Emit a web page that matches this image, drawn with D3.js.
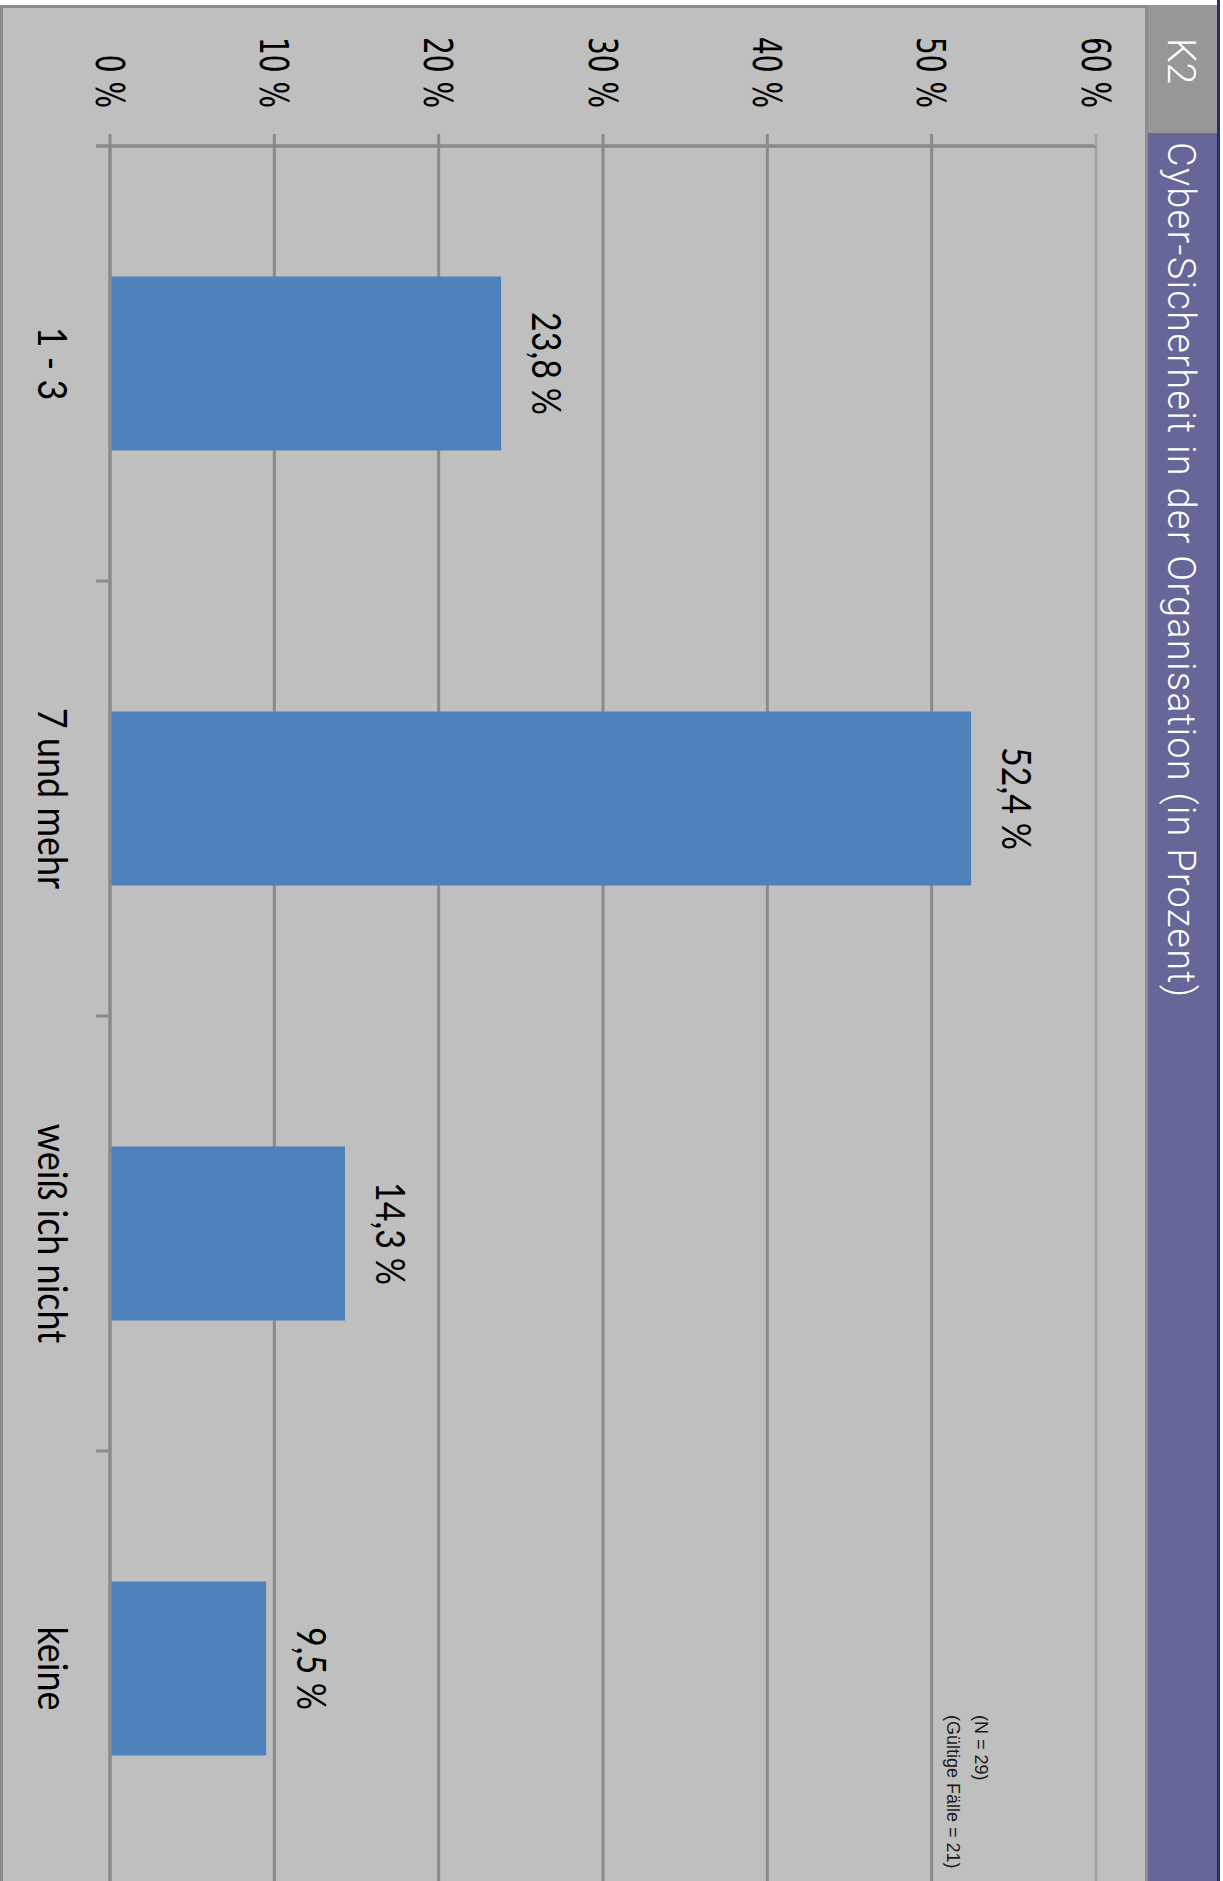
<!DOCTYPE html>
<html>
<head>
<meta charset="utf-8">
<script src="https://cdn.jsdelivr.net/npm/d3@7"></script>
<style>
  html, body { margin: 0; padding: 0; background: #ffffff; }
  svg { display: block; }
</style>
</head>
<body>
<script>
// Chart content
const chartId = "K2";
const chartTitle = "Cyber-Sicherheit in der Organisation (in Prozent)";
const categories = ["1 - 3", "7 und mehr", "weiß ich nicht", "keine"];
const values = [23.8, 52.4, 14.3, 9.5];
const valueTicks = [0, 10, 20, 30, 40, 50, 60];
const footnotes = ["(N = 29)", "(Gültige Fälle = 21)"];

const W = 1223, H = 1881;

const svg = d3.select("body").append("svg")
  .attr("width", W).attr("height", H);

// The chart is laid out as an ordinary column chart (u across, v down)
// and then turned a quarter turn clockwise onto the page.
const g = svg.append("g").attr("transform", `translate(${W},0) rotate(90)`);
const U = H; // length along the turned width

// Panel frame and background
g.append("rect").attr("x", 5).attr("y", 75).attr("width", U - 5).attr("height", W - 75).attr("fill", "#8c8c8c");
g.append("rect").attr("x", 8).attr("y", 78).attr("width", U - 8).attr("height", W - 81).attr("fill", "#bfbfbf");

// Header strip with chart number and title
g.append("rect").attr("x", 5).attr("y", 6).attr("width", 128).attr("height", 69).attr("fill", "#979797");
g.append("rect").attr("x", 133).attr("y", 6).attr("width", U - 133).attr("height", 69).attr("fill", "#666699");
g.append("rect").attr("x", 0).attr("y", 3).attr("width", U).attr("height", 3).attr("fill", "#2b2b72");

function stretchedText(sel, u, v, k) {
  return sel.attr("transform", `translate(${u},${v}) scale(1,${k})`);
}

stretchedText(g.append("text"), 61, 55, 1.0)
  .attr("text-anchor", "middle")
  .attr("font-family", "Roboto, sans-serif")
  .attr("font-weight", 300)
  .attr("font-size", 39)
  .attr("fill", "#ffffff")
  .text(chartId);

stretchedText(g.append("text"), 142, 55, 1.0)
  .attr("font-family", "Roboto, sans-serif")
  .attr("font-weight", 300)
  .attr("font-size", 38)
  .attr("letter-spacing", 1.25)
  .attr("fill", "#ffffff")
  .text(chartTitle);

// Scales
const y = d3.scaleLinear().domain([0, 60]).range([1113, 127]);
const x = d3.scaleBand().domain(categories).range([146, 1886])
  .paddingInner(0.6).paddingOuter(0.3);

// Gridlines
g.append("g").selectAll("line")
  .data(valueTicks.filter(t => t > 0))
  .join("line")
  .attr("x1", 146).attr("x2", U)
  .attr("y1", d => y(d)).attr("y2", d => y(d))
  .attr("stroke", d => d === 60 ? "#a6a6a6" : "#8a8a8a")
  .attr("stroke-width", 3);

// Bars
g.append("g").selectAll("rect")
  .data(categories.map((c, i) => ({ c, v: values[i] })))
  .join("rect")
  .attr("x", d => x(d.c))
  .attr("y", d => y(d.v))
  .attr("width", x.bandwidth())
  .attr("height", d => y(0) - y(d.v))
  .attr("fill", "#4f81bd");

// Category axis (zero line) with ticks between categories
const catAxis = g.append("g").attr("transform", `translate(0,${y(0)})`);
catAxis.append("line")
  .attr("x1", 146).attr("x2", U)
  .attr("stroke", "#8a8a8a").attr("stroke-width", 3.5);
const gap = (x.step() - x.bandwidth()) / 2;
catAxis.selectAll("line.tick")
  .data(categories.slice(1))
  .join("line").attr("class", "tick")
  .attr("x1", d => x(d) - gap).attr("x2", d => x(d) - gap)
  .attr("y1", 0).attr("y2", 14)
  .attr("stroke", "#8a8a8a").attr("stroke-width", 3);

catAxis.selectAll("text")
  .data(categories)
  .join("text")
  .attr("transform", d => `translate(${x(d) + x.bandwidth() / 2},72) scale(1,1.15)`)
  .attr("text-anchor", "middle")
  .attr("font-family", "Lato, 'Open Sans', sans-serif")
  .attr("font-size", 36)
  .attr("fill", "#000")
  .text(d => d);

// Value axis
const valAxis = g.append("g").attr("transform", "translate(146,0)");
valAxis.append("line")
  .attr("y1", y(0) + 14).attr("y2", y(60))
  .attr("stroke", "#8a8a8a").attr("stroke-width", 3.5);
valAxis.selectAll("line.tick")
  .data(valueTicks)
  .join("line").attr("class", "tick")
  .attr("x1", -12).attr("x2", 0)
  .attr("y1", d => y(d)).attr("y2", d => y(d))
  .attr("stroke", d => d === 60 ? "#a6a6a6" : "#8a8a8a")
  .attr("stroke-width", 3);
valAxis.selectAll("text")
  .data(valueTicks)
  .join("text")
  .attr("transform", d => `translate(-38,${y(d) + 14.5}) scale(1,1.4)`)
  .attr("text-anchor", "end")
  .attr("font-family", "'DejaVu Sans', Verdana, sans-serif")
  .attr("font-size", 28)
  .attr("fill", "#000")
  .text(d => d + " %");

// Value labels
const fmt = v => v.toFixed(1).replace(".", ",") + " %";
g.append("g").selectAll("text")
  .data(categories.map((c, i) => ({ c, v: values[i] })))
  .join("text")
  .attr("transform", d => `translate(${x(d.c) + x.bandwidth() / 2},${y(d.v) - 31}) scale(1,1.17)`)
  .attr("text-anchor", "middle")
  .attr("font-family", "Lato, 'Open Sans', sans-serif")
  .attr("font-size", 34)
  .attr("fill", "#000")
  .text(d => fmt(d.v));

// Sample size notes
g.append("g").selectAll("text")
  .data(footnotes)
  .join("text")
  .attr("x", 1715)
  .attr("y", (d, i) => 248 + i * 28)
  .attr("font-family", "'Liberation Sans', Arial, sans-serif")
  .attr("font-size", 18)
  .attr("fill", "#1a1a1a")
  .text(d => d);
</script>
</body>
</html>
